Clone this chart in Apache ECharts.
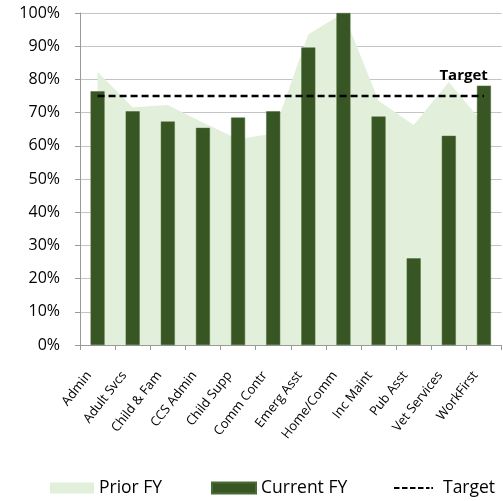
<!DOCTYPE html>
<html>
<head>
<meta charset="utf-8">
<script src="https://cdn.jsdelivr.net/npm/echarts@6/dist/echarts.min.js"></script>
<style>html,body{margin:0;padding:0;background:#fff;}#c{width:503px;height:501px;}</style>
</head>
<body>
<div id="c"></div>
<script>
const categories = ['Admin','Adult Svcs','Child & Fam','CCS Admin','Child Supp','Comm Contr','Emerg Asst','Home/Comm','Inc Maint','Pub Asst','Vet Services','WorkFirst'];
const priorFY = [82.2, 71.6, 72.3, 67.0, 62.0, 63.7, 93.6, 100, 73.6, 66.3, 79.2, 66.5];
const currentFY = [76.4, 70.4, 67.3, 65.4, 68.5, 70.4, 89.6, 100, 68.8, 26.1, 63.0, 78.1];
const targetValues = [75, 75, 75, 75, 75, 75, 75, 75, 75, 75, 75, 75];
const yTicks = [0, 10, 20, 30, 40, 50, 60, 70, 80, 90, 100];
const targetLabel = 'Target';

const FONT = 'Open Sans';
const targetData = targetValues.map((v, i) => i === targetValues.length - 1
  ? {value: v, label: {show: true, formatter: targetLabel, position: [-44, -27],
      fontWeight: 'bold', fontSize: 15, fontFamily: FONT, color: '#000'}}
  : v);

// dashed legend icon (bounding box 39 x 11)
const dashIcon = 'path://M0,0h0.01v0.01h-0.01zM38.99,10.99h0.01v0.01h-0.01z' +
  'M0,4.5h5.5v2h-5.5zM8,4.5h5.5v2h-5.5zM16,4.5h5.5v2h-5.5zM24,4.5h5.5v2h-5.5zM32,4.5h3.5v2h-3.5zM37.3,4.5h1.7v2h-1.7z';

const chart = echarts.init(document.getElementById('c'), null, {renderer: 'canvas'});
chart.setOption({
  animation: false,
  textStyle: {fontFamily: FONT, color: '#000'},
  grid: {left: 80, right: 1.5, top: 13, bottom: 156, containLabel: false},
  legend: [
    {left: 50, top: 479, padding: 0, itemWidth: 44, itemHeight: 11, textStyle: {fontFamily: FONT, fontSize: 17.5, color: '#000'},
     data: [{name: 'Prior FY', icon: 'rect', itemStyle: {color: '#e2efda'}}]},
    {left: 211, top: 479, padding: 0, itemWidth: 44, itemHeight: 11, textStyle: {fontFamily: FONT, fontSize: 17.5, color: '#000'},
     data: [{name: 'Current FY', icon: 'rect', itemStyle: {color: '#375623'}}]},
    {left: 394, top: 479, padding: 0, itemWidth: 39, itemHeight: 11, textStyle: {fontFamily: FONT, fontSize: 17.5, color: '#000', padding: [0, 0, 0, 5]},
     data: [{name: 'Target', icon: dashIcon, itemStyle: {color: '#000', opacity: 1, borderWidth: 0}}]}
  ],
  xAxis: {
    type: 'category',
    data: categories,
    boundaryGap: true,
    axisLine: {lineStyle: {color: '#9a9a9a', width: 1}},
    axisTick: {show: true, length: 5, lineStyle: {color: '#9a9a9a'}},
    axisLabel: {rotate: 52, fontSize: 13, fontFamily: FONT, color: '#000', margin: 17, interval: 0, padding: [0, 14, 0, 0]}
  },
  yAxis: {
    type: 'value',
    min: yTicks[0],
    max: yTicks[yTicks.length - 1],
    interval: 10,
    axisLine: {show: true, lineStyle: {color: '#9a9a9a', width: 1}},
    axisTick: {show: true, length: 5, lineStyle: {color: '#9a9a9a'}},
    splitLine: {lineStyle: {color: '#c4c4c4', width: 1}},
    axisLabel: {formatter: '{value}%', fontSize: 16, fontFamily: FONT, color: '#000', margin: 20}
  },
  series: [
    {
      name: 'Prior FY', type: 'line', data: priorFY, symbol: 'none',
      lineStyle: {width: 0, color: '#e2efda'}, itemStyle: {color: '#e2efda'},
      areaStyle: {color: '#e2efda', opacity: 1}, z: 1
    },
    {
      name: 'Current FY', type: 'bar', data: currentFY, barWidth: 14,
      itemStyle: {color: '#375623', borderColor: '#4b6b36', borderWidth: 0.5}, z: 2
    },
    {
      name: 'Target', type: 'line', data: targetData, symbol: 'circle', symbolSize: 1, showSymbol: true,
      lineStyle: {color: '#000', width: 2.5, type: [7, 4]}, itemStyle: {color: 'rgba(0,0,0,0)'}, z: 3,
      labelLayout: {hideOverlap: false}
    }
  ]
});
</script>
</body>
</html>
